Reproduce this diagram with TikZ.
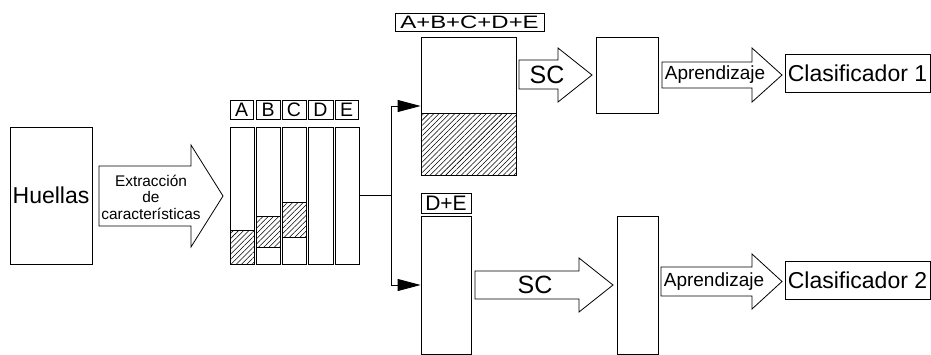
\documentclass[tikz,border=0pt]{standalone}
\usepackage{fontspec}
\setmainfont{Liberation Sans}
\usetikzlibrary{patterns.meta,arrows.meta}
\tikzset{
 box/.style={draw, line width=0.8pt, inner sep=0pt, fill=white},
 hatch/.style={draw, line width=0.8pt, pattern={Lines[angle=45,distance=3.7pt,line width=0.55pt]}},
 barrow/.style={draw, line width=0.8pt, fill=white, line join=miter},
 conn/.style={line width=0.8pt, -{Triangle[length=23pt,width=12pt]}},
 lbl/.style={draw, line width=0.8pt, inner sep=0pt, font=\fontsize{19.5}{20}\selectfont},
 txt/.style={inner sep=0pt, align=center},
}
\begin{document}
\begin{tikzpicture}[x=1pt,y=-1pt]
\useasboundingbox (0,0) rectangle (931,354);
% Huellas
\node[box, minimum width=82pt, minimum height=137pt, font=\fontsize{23}{26}\selectfont] (huellas) at (51,195.5) {Huellas};
% Extraction arrow
\draw[barrow] (99,166) -- (191,166) -- (191,145) -- (223,196) -- (191,247) -- (191,226) -- (99,226) -- cycle;
\node[txt, font=\fontsize{15.4}{16.5}\selectfont] (extr) at (151,197) {Extracción\\de\\características};
% bars
\node[box, minimum width=24pt, minimum height=137pt] (barA) at (242,195.5) {};
\node[box, minimum width=24pt, minimum height=137pt] (barB) at (268,195.5) {};
\node[box, minimum width=24pt, minimum height=137pt] (barC) at (294,195.5) {};
\node[box, minimum width=25pt, minimum height=137pt] (barD) at (320.5,195.5) {};
\node[box, minimum width=24pt, minimum height=137pt] (barE) at (347,195.5) {};
\draw[hatch] (230,230) rectangle (254,264);
\draw[hatch] (256,216) rectangle (280,247);
\draw[hatch] (282,202) rectangle (306,237);
% labels
\node[lbl, minimum width=23pt, minimum height=19pt] (lA) at (241.5,109.5) {A};
\node[lbl, minimum width=24pt, minimum height=19pt] (lB) at (268,109.5) {B};
\node[lbl, minimum width=24pt, minimum height=19pt] (lC) at (294,109.5) {C};
\node[lbl, minimum width=25pt, minimum height=19pt] (lD) at (320.5,109.5) {D};
\node[lbl, minimum width=23pt, minimum height=19pt] (lE) at (346.5,109.5) {E};
% top branch
\node[box, minimum width=95pt, minimum height=138pt] (big) at (468.5,106) {};
\draw[hatch] (421,113) rectangle (516,175);
\node[lbl, minimum width=149pt, minimum height=18pt, font=\fontsize{18}{18}\selectfont] (lall) at (469.5,22) {\scalebox{1.33}[1]{A+B+C+D+E}};
% bottom branch
\node[box, minimum width=50pt, minimum height=138pt] (de) at (446,285) {};
\node[lbl, minimum width=50pt, minimum height=20pt, font=\fontsize{21}{21}\selectfont] (lde) at (446,203) {D+E};
% connector
\coordinate (split) at (391,195.5);
\draw[line width=0.8pt] (barE.east) -- (split);
\draw[conn] (split) |- (big.west);
\draw[conn] (split) |- (de.west);
% SC arrows
\draw[barrow] (519,60) -- (558,60) -- (558,48) -- (592,75) -- (558,102) -- (558,89) -- (519,89) -- cycle;
\node[txt, font=\fontsize{25}{25}\selectfont] (sc1) at (547,75) {SC};
\draw[barrow] (475,271) -- (579,271) -- (579,258) -- (613,285) -- (579,312) -- (579,299) -- (475,299) -- cycle;
\node[txt, font=\fontsize{25}{25}\selectfont] (sc2) at (535,285) {SC};
% intermediate boxes
\node[box, minimum width=62pt, minimum height=76pt] (m1) at (627,75) {};
\node[box, minimum width=41pt, minimum height=138pt] (m2) at (637.5,285) {};
% Aprendizaje arrows
\draw[barrow] (662,62) -- (752,62) -- (752,48) -- (782,75) -- (752,102) -- (752,88) -- (662,88) -- cycle;
\node[txt, font=\fontsize{19}{19}\selectfont] (ap1) at (715,75) {Aprendizaje};
\draw[barrow] (661,267) -- (752,267) -- (752,254) -- (782,281.5) -- (752,309) -- (752,296) -- (661,296) -- cycle;
\node[txt, font=\fontsize{19}{19}\selectfont] (ap2) at (714,281.5) {Aprendizaje};
% classifiers
\node[box, minimum width=145pt, minimum height=38pt, font=\fontsize{23}{23}\selectfont] (c1) at (857.5,73) {Clasificador 1};
\node[box, minimum width=145pt, minimum height=38pt, font=\fontsize{23}{23}\selectfont] (c2) at (857.5,280) {Clasificador 2};
\end{tikzpicture}
\end{document}
